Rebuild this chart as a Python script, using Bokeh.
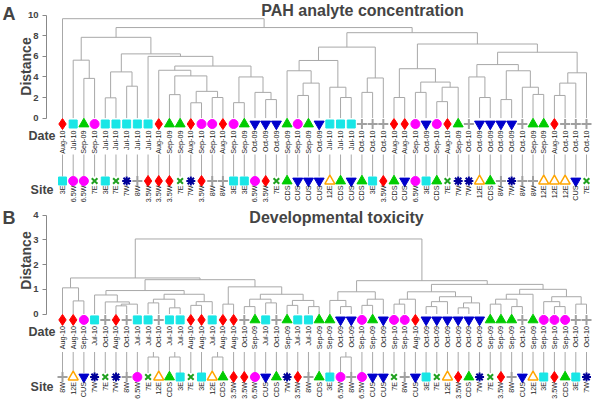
import math
from bokeh.plotting import figure
from bokeh.layouts import column
from bokeh.models import Label, FixedTicker, Range1d
from bokeh.embed import file_html
from bokeh.resources import INLINE
from bokeh.core.properties import value

# ---------------- data ----------------
a_dates = ["Aug-10", "Jul-10", "Sep-09", "Sep-10", "Jul-10", "Jul-10", "Jul-10", "Jul-10", "Jul-10", "Aug-10",
           "Sep-09", "Sep-09", "Aug-10", "Sep-10", "Sep-10", "Aug-10", "Sep-10", "Sep-09", "Oct-09", "Oct-09",
           "Oct-09", "Sep-09", "Sep-10", "Sep-09", "Oct-09", "Jul-10", "Jul-10", "Jul-10", "Oct-10", "Oct-10",
           "Oct-10", "Aug-10", "Aug-10", "Sep-10", "Oct-09", "Sep-10", "Aug-10", "Sep-09", "Oct-10", "Oct-09",
           "Oct-09", "Oct-09", "Oct-09", "Oct-10", "Sep-09", "Sep-09", "Aug-10", "Oct-10", "Oct-10", "Oct-10"]
a_sites = ["3E", "6.5W", "6.5W", "7E", "3E", "7E", "7W", "8W", "3.5W", "3.5W",
           "3.5W", "7E", "7W", "3.5W", "8W", "8W", "3E", "3E", "6.5W", "3.5W",
           "7E", "CDS", "CUS", "CUS", "CUS", "12E", "CDS", "CUS", "CDS", "3E",
           "3.5W", "CDS", "CUS", "6.5W", "3E", "CDS", "7E", "7W", "7W", "12E",
           "CDS", "8W", "7W", "8W", "8W", "12E", "12E", "12E", "CUS", "7E"]
# merge height between each pair of neighbouring leaves (cophenetic distance)
a_gaps = [9.66, 5.63, 3.86, 7.85, 1.97, 4.49, 3.10, 6.24, 6.00, 4.65,
          2.28, 4.10, 1.49, 2.60, 2.00, 5.06, 1.50, 4.00, 2.50, 1.80,
          8.80, 4.60, 2.20, 3.40, 5.60, 3.00, 2.00, 6.90, 2.50, 3.90,
          8.30, 2.00, 4.80, 2.50, 3.50, 1.60, 3.00, 7.20, 4.00, 2.00,
          5.20, 1.80, 4.60, 3.00, 2.30, 6.40, 2.20, 3.40, 4.40]
a_pairs = []

b_dates = ["Aug-10", "Aug-10", "Sep-10", "Jul-10", "Oct-10", "Aug-10", "Oct-10", "Jul-10", "Jul-10", "Oct-10",
           "Jul-10", "Jul-10", "Aug-10", "Aug-10", "Jul-10", "Aug-10", "Aug-10", "Oct-10", "Sep-09", "Jul-10",
           "Oct-10", "Sep-09", "Jul-10", "Jul-10", "Sep-09", "Sep-09", "Oct-09", "Oct-09", "Sep-10", "Sep-09",
           "Oct-09", "Sep-10", "Sep-10", "Aug-10", "Oct-09", "Oct-09", "Oct-09", "Oct-09", "Oct-09", "Oct-09",
           "Sep-09", "Sep-09", "Sep-09", "Oct-10", "Sep-09", "Sep-10", "Sep-10", "Sep-10", "Oct-10", "Oct-10"]
b_sites = ["8W", "12E", "CUS", "7W", "7E", "7W", "8W", "6.5W", "7E", "12E",
           "CDS", "3E", "7E", "3E", "12E", "CDS", "3.5W", "3.5W", "6.5W", "CUS",
           "CDS", "7W", "3.5W", "8W", "CDS", "3E", "6.5W", "8W", "6.5W", "CUS",
           "CUS", "7E", "8W", "CUS", "3E", "7E", "12E", "3.5W", "CDS", "7W",
           "7E", "3.5W", "8W", "CUS", "12E", "3E", "3.5W", "CDS", "3E", "7W"]
b_gaps = [1.06, 0.53, 1.46, 0.77, 0.49, 0.33, 0.40, 0.95, 0.45, 0.60,
          0.25, 0.80, 0.35, 0.50, 1.39, 0.40, 1.10, 0.30, 0.60, 0.45,
          0.80, 0.35, 0.55, 0.30, 3.04, 0.55, 0.30, 0.90, 0.35, 0.60,
          1.35, 0.40, 0.60, 0.90, 0.30, 0.50, 0.70, 0.25, 0.45, 1.20,
          0.40, 0.60, 0.30, 0.80, 1.00, 0.50, 0.30, 0.70, 0.40]
# neighbouring leaves whose connector lines are joined under the date labels
b_pairs = [8, 10, 14, 26]

date_order = ["Aug-10", "Jul-10", "Sep-09", "Sep-10", "Oct-09", "Oct-10"]
site_order = ["3E", "6.5W", "7E", "7W", "8W", "3.5W", "CDS", "CUS", "12E"]

# ---------------- styles ----------------
DATE_STYLE = {
    "Aug-10": dict(marker="diamond", size=11, fill_color="#FF0000", line_color="#FF0000", line_width=1),
    "Jul-10": dict(marker="square", size=8, fill_color="#19E6E6", line_color="#19E6E6", line_width=1),
    "Sep-09": dict(marker="triangle", size=10, fill_color="#00CC00", line_color="#00CC00", line_width=1),
    "Sep-10": dict(marker="circle", size=9, fill_color="#FF00FF", line_color="#FF00FF", line_width=1),
    "Oct-09": dict(marker="inverted_triangle", size=10, fill_color="#0000CC", line_color="#0000CC", line_width=1),
    "Oct-10": dict(marker="cross", size=10, fill_color=None, line_color="#A0A0A0", line_width=2),
}
SITE_STYLE = {
    "3E": DATE_STYLE["Jul-10"],
    "6.5W": DATE_STYLE["Sep-10"],
    "7E": dict(marker="x", size=8, fill_color=None, line_color="#1FA01F", line_width=2),
    "7W": dict(marker="asterisk", size=9, fill_color=None, line_color="#000099", line_width=2),
    "8W": DATE_STYLE["Oct-10"],
    "3.5W": DATE_STYLE["Aug-10"],
    "CDS": DATE_STYLE["Sep-09"],
    "CUS": DATE_STYLE["Oct-09"],
    "12E": dict(marker="triangle", size=10, fill_color=None, line_color="#FFA500", line_width=1.5),
}

FONT = "Liberation Sans"
LINE = "#A8A8A8"
W = 592


def dendro_segments(gaps):
    xs, ys = [], []

    def rec(lo, hi):
        if lo == hi:
            return float(lo), 0.0
        k = max(range(lo, hi), key=lambda i: gaps[i])
        xl, hl = rec(lo, k)
        xr, hr = rec(k + 1, hi)
        h = gaps[k]
        xs.append([xl, xl, xr, xr])
        ys.append([hl, h, h, hr])
        return (xl + xr) / 2.0, h

    rec(0, len(gaps))
    return xs, ys


def panel(letter, title, dates, sites, gaps, pairs, ymax, ticks, H, y0, ppu, lay):
    AX = 46             # px of the y axis line
    lx0, lx1 = 62, 586  # px of first / last leaf
    n = len(dates)
    sp = (lx1 - lx0) / (n - 1)
    xstart = -lx0 / sp
    xend = (n - 1) + (W - lx1) / sp
    top = y0 / ppu
    bottom = -(H - y0) / ppu

    def fy(py):  # figure px (from top) -> data y
        return top - py / ppu

    def fx(px):
        return (px - lx0) / sp

    p = figure(width=W, height=H, output_backend="svg", toolbar_location=None,
               x_range=Range1d(xstart, xend), y_range=Range1d(bottom, top),
               x_axis_location=None, min_border_left=0, min_border_right=0,
               min_border_top=0, min_border_bottom=0)
    p.outline_line_color = None
    p.grid.visible = False
    p.background_fill_color = "white"

    ax = p.yaxis[0]
    ax.fixed_location = fx(AX)
    ax.ticker = FixedTicker(ticks=ticks)
    ax.bounds = (0, ymax)
    ax.major_label_text_font = FONT
    ax.major_label_text_font_style = "bold"
    ax.major_label_text_font_size = "9.5px"
    ax.major_label_standoff = 4
    ax.major_tick_in = 0
    ax.major_tick_out = 4
    ax.minor_tick_out = 0
    ax.minor_tick_in = 0
    ax.axis_line_color = "#888888"
    ax.major_tick_line_color = "#888888"

    # dendrogram
    xs, ys = dendro_segments(gaps)
    p.multi_line(xs, ys, line_color=LINE, line_width=1)

    idx = list(range(n))
    # date markers
    for d in date_order:
        ii = [i for i in idx if dates[i] == d]
        if not ii:
            continue
        st = dict(DATE_STYLE[d])
        mk = st.pop("marker")
        p.scatter([float(i) for i in ii], [fy(lay["dm"])] * len(ii), marker=mk, **st)
    # date labels
    p.text(idx, [fy(lay["dt"])] * n, text=list(dates), angle=math.pi / 2,
           text_align="right", text_baseline="middle", text_font=value(FONT),
           text_font_size="7.2px", text_color="#222222")
    # connector lines (joined in pairs for some neighbours)
    paired = set()
    for k in pairs:
        paired.add(k)
        paired.add(k + 1)
    c0 = [fy(lay["c0"] + (5 if i in paired else 0)) for i in idx]
    p.segment(idx, c0, idx, [fy(lay["c1"])] * n, line_color=LINE, line_width=1)
    if pairs:
        p.segment([k for k in pairs], [fy(lay["c0"] + 5)] * len(pairs),
                  [k + 1 for k in pairs], [fy(lay["c0"] + 5)] * len(pairs), line_color=LINE, line_width=1)
        p.segment([k + 0.5 for k in pairs], [fy(lay["c0"] + 5)] * len(pairs),
                  [k + 0.5 for k in pairs], [fy(lay["c0"])] * len(pairs), line_color=LINE, line_width=1)
    # site markers
    for s in site_order:
        ii = [i for i in idx if sites[i] == s]
        if not ii:
            continue
        st = dict(SITE_STYLE[s])
        mk = st.pop("marker")
        p.scatter([float(i) for i in ii], [fy(lay["sm"])] * len(ii), marker=mk, **st)
    p.text(idx, [fy(lay["st"])] * n, text=list(sites), angle=math.pi / 2,
           text_align="right", text_baseline="middle", text_font=value(FONT),
           text_font_size="7.2px", text_color="#222222")

    # annotations
    p.add_layout(Label(x=fx(2), y=fy(lay["let_y"]), text=letter, text_font=FONT, text_font_style="bold",
                       text_font_size="18px", text_baseline="top", text_align="left"))
    p.add_layout(Label(x=fx(lay["title_x"]), y=fy(lay["title_y"]), text=title, text_font=FONT,
                       text_font_style="bold", text_font_size="16px", text_baseline="middle",
                       text_align="center"))
    p.add_layout(Label(x=fx(25), y=fy(lay["dist_y"]), text="Distance", text_font=FONT,
                       text_font_style="bold", text_font_size="14px", text_baseline="middle",
                       text_align="center", angle=math.pi / 2))
    p.add_layout(Label(x=fx(55), y=fy(lay["date_y"]), text="Date", text_font=FONT, text_font_style="bold",
                       text_font_size="12.5px", text_baseline="middle", text_align="right"))
    p.add_layout(Label(x=fx(53), y=fy(lay["site_y"]), text="Site", text_font=FONT, text_font_style="bold",
                       text_font_size="12.5px", text_baseline="middle", text_align="right"))
    return p


layA = dict(dm=123.5, dt=130, c0=154, c1=176, sm=180.5, st=185, title_x=362, title_y=10,
            let_y=3, dist_y=66, date_y=135.5, site_y=189)
layB = dict(dm=113.4, dt=119.5, c0=145.5, c1=166.5, sm=170.5, st=175.5, title_x=336, title_y=11,
            let_y=1, dist_y=54, date_y=125.5, site_y=180)

pA = panel("A", "PAH analyte concentration", a_dates, a_sites, a_gaps, a_pairs, 10, [0, 2, 4, 6, 8, 10],
           206, 117.6, 10.29, layA)
pB = panel("B", "Developmental toxicity", b_dates, b_sites, b_gaps, b_pairs, 4, [0, 1, 2, 3, 4],
           197, 107.5, 24.68, layB)

layout = column(pA, pB, spacing=0)
open("out.html", "w").write(file_html(layout, INLINE))
